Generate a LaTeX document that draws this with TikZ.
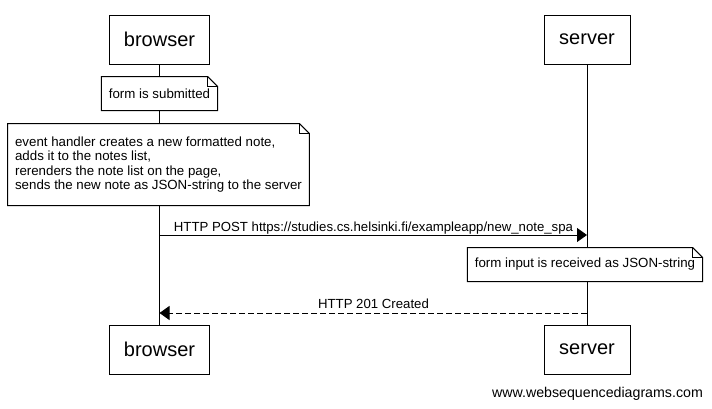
\documentclass[tikz,border=0pt]{standalone}
\usepackage{fontspec}
\setmainfont{Liberation Sans}
\usetikzlibrary{arrows.meta}

\tikzset{
	actor/.style={draw, line width=1pt, minimum height=49pt, inner sep=0pt, font=\fontsize{20}{24}\selectfont},
	note/.style={fill=white, align=left, inner xsep=7pt, inner ysep=0pt, minimum height=33pt, font=\fontsize{13.3}{14.3}\selectfont},
	msg/.style={font=\fontsize{13.2}{15}\selectfont, anchor=base, inner sep=0pt},
}

\begin{document}
\begin{tikzpicture}[x=1pt, y=-1pt, line width=1pt]
			\useasboundingbox[fill=white] (0,0) rectangle (712,408);
			\begin{scope}[every node/.style={actor}]
				\node[minimum width=100pt] (browser)  at (159.5,39.5)  {browser};
				\node[minimum width=86pt]  (server)   at (587,39.5)    {server};
				\node[minimum width=100pt] (browser2) at (159.5,349.5) {browser};
				\node[minimum width=86pt]  (server2)  at (587,349.5)   {server};
			\end{scope}
			\begin{scope}[every edge/.style={draw=black, line width=1pt}]
				\path (browser) edge (browser2);
				\path (server) edge (server2);
			\end{scope}
			\begin{scope}[every node/.style={note}]
				\node[minimum width=113pt] (submit) at (159.5,93.5) {form is submitted};
				\node[minimum width=297pt, minimum height=81pt] (handler) at (158.5,164.5) {event handler creates a new formatted note,\\adds it to the notes list,\\rerenders the note list on the page,\\sends the new note as JSON-string to the server};
				\node[minimum width=226pt] (received) at (585,264.5) {form input is received as JSON-string};
			\end{scope}
			\foreach \n in {submit,handler,received} {
				\draw (\n.south west) -- (\n.north west) -- ([xshift=-10pt]\n.north east) -- ([yshift=-10pt]\n.north east) -- (\n.south east) -- cycle;
				\draw ([xshift=-10pt]\n.north east) -- ([xshift=-10pt,yshift=-10pt]\n.north east) -- ([yshift=-10pt]\n.north east);
			}
			\coordinate (postA) at (browser |- 0,235);
			\coordinate (postB) at (server |- 0,235);
			\coordinate (okA) at (server |- 0,313);
			\coordinate (okB) at (browser |- 0,313);
			\begin{scope}[every edge/.style={draw=black, line width=1pt, -{Triangle[length=10pt, width=14pt]}}]
				\path (postA) edge (postB);
				\path (okA) edge[dash pattern=on 6pt off 3pt] (okB);
			\end{scope}
			\node[msg] (post) at (373.5,231.5) {HTTP POST https://studies.cs.helsinki.fi/exampleapp/new\_note\_spa};
			\node[msg] (created) at (373.5,308) {HTTP 201 Created};
			\node[font=\fontsize{14.2}{16}\selectfont, inner sep=0pt] (wsd) at (597.5,394) {www.websequencediagrams.com};
		\end{tikzpicture}
\end{document}
